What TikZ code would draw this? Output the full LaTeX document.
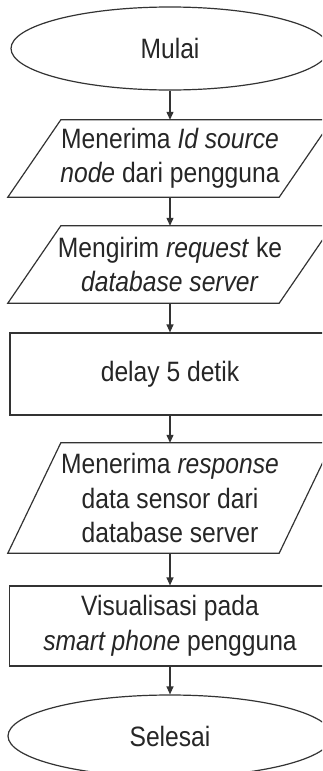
\documentclass[tikz,border=0pt]{standalone}
\usepackage{fontspec}
\setmainfont{Liberation Sans}[FakeStretch=0.88]
\usetikzlibrary{shapes.geometric,arrows.meta,calc}

\definecolor{ink}{HTML}{333333}
\definecolor{txt}{HTML}{262626}

\begin{document}
\begin{tikzpicture}[x=1pt,y=-1pt,
  every node/.style={text=txt,font=\fontsize{28}{34.5}\selectfont,align=center,inner sep=0pt},
  terminal/.style={ellipse,draw=ink,line width=1.2pt,fill=white},
  procbox/.style={rectangle,draw=ink,line width=1.2pt,fill=white},
  iobox/.style={rectangle},
  flow/.style={draw=ink,line width=1.2pt,-{Triangle[length=8pt,width=7pt]}},
  slanted/.style={draw=ink,line width=1.2pt,fill=white,line join=miter}]

  \useasboundingbox (0,0) rectangle (322,771);
  \clip (0,0) rectangle (322,771);

  % slant of the input/output shapes
  \def\sl{53}

  % start
  \node[terminal,minimum width=318pt,minimum height=83pt] (start) at (170,48.5) {Mulai};

  % input: source node id
  \node[iobox,minimum width=324pt,minimum height=77pt] (in1) at (170,158.5) {};
  \draw[slanted] (in1.south west) -- ($(in1.south east)+(-\sl,0)$) -- (in1.north east) -- ($(in1.north west)+(\sl,0)$) -- cycle;
  \node at (in1.center) {Menerima \textit{Id source}\\\textit{node} dari pengguna};

  % output: request
  \node[iobox,minimum width=324pt,minimum height=77pt] (out1) at (170,264.5) {};
  \draw[slanted] (out1.south west) -- ($(out1.south east)+(-\sl,0)$) -- (out1.north east) -- ($(out1.north west)+(\sl,0)$) -- cycle;
  \node at (out1.center) {Mengirim \textit{request} ke\\\textit{database server}};

  % delay
  \node[procbox,minimum width=320pt,minimum height=82pt] (wait) at (170,374) {delay 5 detik};

  % input: response
  \node[iobox,minimum width=324pt,minimum height=110pt] (in2) at (170,498) {};
  \draw[slanted] (in2.south west) -- ($(in2.south east)+(-\sl,0)$) -- (in2.north east) -- ($(in2.north west)+(\sl,0)$) -- cycle;
  \node at (in2.center) {Menerima \textit{response}\\data sensor dari\\database server};

  % visualisation
  \node[procbox,minimum width=321pt,minimum height=80pt] (show) at (170,626) {Visualisasi pada\\\textit{smart phone} pengguna};

  % end
  \node[terminal,minimum width=324pt,minimum height=82pt] (stop) at (170,736) {Selesai};

  % connectors
  \draw[flow] (start.south) -- (in1.north);
  \draw[flow] (in1.south) -- (out1.north);
  \draw[flow] (out1.south) -- (wait.north);
  \draw[flow] (wait.south) -- (in2.north);
  \draw[flow] (in2.south) -- (show.north);
  \draw[flow] (show.south) -- (stop.north);
\end{tikzpicture}
\end{document}
